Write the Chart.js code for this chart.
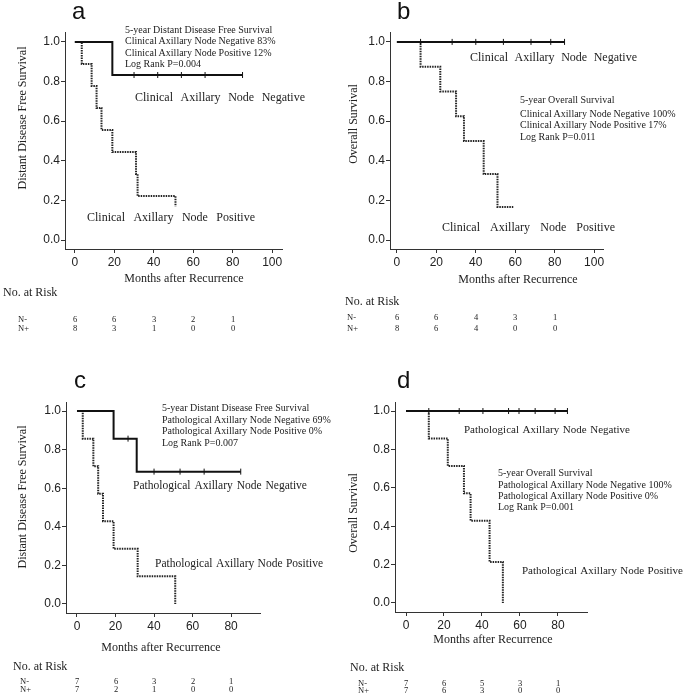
<!DOCTYPE html>
<html>
<head>
<meta charset="utf-8">
<script src="https://cdn.jsdelivr.net/npm/chart.js@4.4.0/dist/chart.umd.min.js"></script>
<style>
    html, body { margin: 0; padding: 0; background: #fff; }
    #fig { position: relative; width: 685px; height: 699px; overflow: hidden; }
    #fig canvas { position: absolute; }
    .t { position: absolute; font-family: "Liberation Serif", "Times New Roman", serif; color: #222;
         white-space: nowrap; line-height: 1; transform: translateY(-50%);
         -webkit-font-smoothing: antialiased; filter: grayscale(1); }
    .ctr { transform: translate(-50%, -50%); }
    .vt { transform: translate(-50%, -50%) rotate(-90deg); }
    .spread { display: flex; justify-content: space-between; }
    .lab { position: absolute; font-family: "Liberation Sans", Arial, sans-serif; font-size: 24px;
           line-height: 1; color: #111; filter: grayscale(1); }
</style>
</head>
<body>
<div id="fig"></div>
<script>
/* ── Data ─────────────────────────────────────────────────── */
const X_TICKS_AB = [0, 20, 40, 60, 80, 100];
const X_TICKS_CD = [0, 20, 40, 60, 80];
const Y_TICKS    = [0, 0.2, 0.4, 0.6, 0.8, 1.0];
const RISK_T     = [0, 20, 40, 60, 80];

// a · clinical node, distant disease free survival
const A_NEG_T    = [0, 19, 85];
const A_NEG_S    = [1, 0.833, 0.833];
const A_NEG_CENS = [30, 42, 54, 66, 85];
const A_POS_T    = [0, 3.5, 8.5, 11, 13.5, 19, 31, 31.8, 51];
const A_POS_S    = [1, 0.889, 0.778, 0.667, 0.556, 0.444, 0.333, 0.222, 0.17];
const A_RISK_NEG = [6, 6, 3, 2, 1];
const A_RISK_POS = [8, 3, 1, 0, 0];

// b · clinical node, overall survival
const B_NEG_T    = [0, 85];
const B_NEG_S    = [1, 1];
const B_NEG_CENS = [12, 28, 40, 54, 68, 78, 85];
const B_POS_T    = [0, 12, 22, 30, 34, 44, 51, 59];
const B_POS_S    = [1, 0.875, 0.75, 0.625, 0.5, 0.333, 0.167, 0.167];
const B_RISK_NEG = [6, 6, 4, 3, 1];
const B_RISK_POS = [8, 6, 4, 0, 0];

// c · pathological node, distant disease free survival
const C_NEG_T    = [0, 19, 31, 85];
const C_NEG_S    = [1, 0.857, 0.686, 0.686];
const C_NEG_CENS = [26.5, 40, 53.5, 66, 85];
const C_POS_T    = [0, 3, 8.5, 11, 13.5, 19, 31.5, 51];
const C_POS_S    = [1, 0.857, 0.714, 0.571, 0.429, 0.286, 0.143, 0];
const C_RISK_NEG = [7, 6, 3, 2, 1];
const C_RISK_POS = [7, 2, 1, 0, 0];

// d · pathological node, overall survival
const D_NEG_T    = [0, 85];
const D_NEG_S    = [1, 1];
const D_NEG_CENS = [12, 28, 40.5, 54, 59.5, 68, 78.5, 85];
const D_POS_T    = [0, 12, 22, 30.5, 34, 44, 51];
const D_POS_S    = [1, 0.857, 0.714, 0.571, 0.429, 0.214, 0];
const D_RISK_NEG = [7, 6, 5, 3, 1];
const D_RISK_POS = [7, 6, 3, 0, 0];

/* ── Layout (page pixels) ─────────────────────────────────── */
const PANELS = [
    { key: 'a', plot: { left: 65, right: 282, top: 32, bottom: 249 }, x: [-5, 105], y: [-0.045, 1.05],
      xTicks: X_TICKS_AB, neg: [A_NEG_T, A_NEG_S, A_NEG_CENS], pos: [A_POS_T, A_POS_S],
      risk: [A_RISK_NEG, A_RISK_POS], riskY: [319, 328] },
    { key: 'b', plot: { left: 390, right: 603, top: 32, bottom: 249 }, x: [-3.5, 104.5], y: [-0.045, 1.05],
      xTicks: X_TICKS_AB, neg: [B_NEG_T, B_NEG_S, B_NEG_CENS], pos: [B_POS_T, B_POS_S],
      risk: [B_RISK_NEG, B_RISK_POS], riskY: [317, 328] },
    { key: 'c', plot: { left: 66, right: 260, top: 402, bottom: 613 }, x: [-5.7, 95], y: [-0.047, 1.047],
      xTicks: X_TICKS_CD, neg: [C_NEG_T, C_NEG_S, C_NEG_CENS], pos: [C_POS_T, C_POS_S],
      risk: [C_RISK_NEG, C_RISK_POS], riskY: [681, 689] },
    { key: 'd', plot: { left: 395, right: 587, top: 402, bottom: 612 }, x: [-5.8, 95.3], y: [-0.047, 1.047],
      xTicks: X_TICKS_CD, neg: [D_NEG_T, D_NEG_S, D_NEG_CENS], pos: [D_POS_T, D_POS_S],
      risk: [D_RISK_NEG, D_RISK_POS], riskY: [683, 690] },
];

/* ── Text overlays: [x, y, text, size, kind, width] ────────── */
const TEXTS = [
    // a
    [125, 29.5, '5-year Distant Disease Free Survival', 10],
    [125, 41,   'Clinical Axillary Node Negative 83%', 10],
    [125, 52.5, 'Clinical Axillary Node Positive 12%', 10],
    [125, 64,   'Log Rank P=0.004', 10],
    [135, 97,   'Clinical Axillary Node Negative', 12, 'spread', 170],
    [87, 217,   'Clinical Axillary Node Positive', 12, 'spread', 168],
    [22, 118,   'Distant Disease Free Survival', 12, 'vt'],
    [184, 278,  'Months after Recurrence', 12, 'ctr'],
    [3, 292,    'No. at Risk', 12],
    [18, 319,   'N-', 8.5], [18, 328, 'N+', 8.5],
    // b
    [520, 100,  '5-year Overall Survival', 10],
    [520, 114,  'Clinical Axillary Node Negative 100%', 10],
    [520, 125,  'Clinical Axillary Node Positive 17%', 10],
    [520, 137,  'Log Rank P=0.011', 10],
    [470, 57,   'Clinical Axillary Node Negative', 12, 'spread', 167],
    [442, 227,  'Clinical Axillary Node Positive', 12, 'spread', 173],
    [353, 124,  'Overall Survival', 12, 'vt'],
    [518, 279,  'Months after Recurrence', 12, 'ctr'],
    [345, 301,  'No. at Risk', 12],
    [347, 317,  'N-', 8.5], [347, 328, 'N+', 8.5],
    // c
    [162, 408,  '5-year Distant Disease Free Survival', 10],
    [162, 420,  'Pathological Axillary Node Negative 69%', 10],
    [162, 431,  'Pathological Axillary Node Positive 0%', 10],
    [162, 443,  'Log Rank P=0.007', 10],
    [133, 486,  'Pathological Axillary Node Negative', 11.5, 'spread', 174],
    [155, 564,  'Pathological Axillary Node Positive', 11.5, 'spread', 168],
    [22, 497,   'Distant Disease Free Survival', 12, 'vt'],
    [161, 647,  'Months after Recurrence', 12, 'ctr'],
    [13, 666,   'No. at Risk', 12],
    [20, 681,   'N-', 8.5], [20, 689, 'N+', 8.5],
    // d
    [464, 429,  'Pathological Axillary Node Negative', 11, 'spread', 166],
    [498, 473,  '5-year Overall Survival', 10],
    [498, 485,  'Pathological Axillary Node Negative 100%', 10],
    [498, 496,  'Pathological Axillary Node Positive 0%', 10],
    [498, 507,  'Log Rank P=0.001', 10],
    [522, 570,  'Pathological Axillary Node Positive', 11, 'spread', 161],
    [353, 513,  'Overall Survival', 12, 'vt'],
    [493, 639,  'Months after Recurrence', 12, 'ctr'],
    [350, 667,  'No. at Risk', 12],
    [358, 683,  'N-', 8.5], [358, 690, 'N+', 8.5],
];

// panel letters: [x, baseline]
const LETTERS = { a: [72, 19], b: [397, 19], c: [74, 388], d: [397, 388] };

const fig = document.getElementById('fig');

function addText(x, y, str, size, kind, width) {
    const d = document.createElement('div');
    d.className = 't' + (kind === 'vt' || kind === 'ctr' ? ' ' + kind : '');
    d.style.left = Math.round(x) + 'px';
    d.style.top = Math.round(y) + 'px';
    d.style.fontSize = size + 'px';
    if (kind === 'spread') {
        d.classList.add('spread');
        d.style.width = width + 'px';
        str.split(' ').forEach(function (w) {
            const s = document.createElement('span');
            s.textContent = w;
            d.appendChild(s);
        });
    } else {
        d.textContent = str;
    }
    fig.appendChild(d);
}

function survAt(T, S, t) {
    let v = S[0];
    for (let i = 0; i < T.length; i++) if (T[i] <= t) v = S[i];
    return v;
}

function pts(T, S) {
    return T.map(function (t, i) { return { x: t, y: S[i] }; });
}

const TICK_FONT = { family: '"Liberation Sans", Arial, sans-serif', size: 12 };
const ML = 45, MR = 15, MT = 10, MB = 30, YW = 40, XH = 25;

PANELS.forEach(function (p) {
    const pw = p.plot.right - p.plot.left;
    const ph = p.plot.bottom - p.plot.top;
    const cw = pw + ML + MR, ch = ph + MT + MB;
    const cx = p.plot.left - ML, cy = p.plot.top - MT;

    const cv = document.createElement('canvas');
    cv.width = cw; cv.height = ch;
    cv.style.left = cx + 'px'; cv.style.top = cy + 'px';
    cv.style.width = cw + 'px'; cv.style.height = ch + 'px';
    fig.appendChild(cv);

    const [nT, nS, nC] = p.neg;
    const [pT, pS] = p.pos;

    const chart = new Chart(cv, {
        type : 'line',
        data : {
            datasets : [
                {
                    data        : nC.map(function (t) { return { x: t, y: survAt(nT, nS, t) }; }),
                    showLine    : false,
                    pointStyle  : 'line',
                    pointRotation : 90,
                    pointRadius : 3,
                    pointBorderWidth : 1,
                    borderColor : '#111',
                },
                {
                    data        : pts(nT, nS),
                    stepped     : 'before',
                    borderColor : '#111',
                    borderWidth : 2,
                    pointRadius : 0,
                },
                {
                    data        : pts(pT, pS),
                    stepped     : 'before',
                    borderColor : '#222',
                    borderWidth : 2,
                    borderDash  : [1.5, 1],
                    pointRadius : 0,
                },
            ],
        },
        options : {
            responsive : false,
            animation  : false,
            events     : [],
            layout     : { padding: { left: ML - YW, right: MR, top: MT, bottom: MB - XH } },
            plugins    : { legend: { display: false }, tooltip: { enabled: false } },
            scales : {
                x : {
                    type : 'linear', min: p.x[0], max: p.x[1],
                    afterBuildTicks : function (s) { s.ticks = p.xTicks.map(function (v) { return { value: v }; }); },
                    afterFit : function (s) { s.height = XH; s.paddingLeft = 0; s.paddingRight = 0; },
                    grid   : { drawOnChartArea: false, tickLength: 4, color: '#333' },
                    border : { color: '#333', width: 1 },
                    ticks  : { font: TICK_FONT, color: '#222', padding: 2, maxRotation: 0, autoSkip: false },
                },
                y : {
                    type : 'linear', min: p.y[0], max: p.y[1],
                    afterBuildTicks : function (s) { s.ticks = Y_TICKS.map(function (v) { return { value: v }; }); },
                    afterFit : function (s) { s.width = YW; s.paddingTop = 0; s.paddingBottom = 0; },
                    grid   : { drawOnChartArea: false, tickLength: 4, color: '#333' },
                    border : { color: '#333', width: 1 },
                    ticks  : { font: TICK_FONT, color: '#222', padding: 1, autoSkip: false,
                               callback: function (v) { return Number(v).toFixed(1); } },
                },
            },
        },
    });

    // number-at-risk rows, placed under the x scale
    p.risk.forEach(function (row, r) {
        row.forEach(function (n, i) {
            const x = cx + chart.scales.x.getPixelForValue(RISK_T[i]);
            addText(x, p.riskY[r], String(n), 8.5, 'ctr');
        });
    });
});

TEXTS.forEach(function (t) { addText(t[0], t[1], t[2], t[3], t[4], t[5]); });

Object.keys(LETTERS).forEach(function (k) {
    const d = document.createElement('div');
    d.className = 'lab';
    d.textContent = k;
    d.style.left = LETTERS[k][0] + 'px';
    d.style.top = Math.round(LETTERS[k][1] - 0.8465 * 24) + 'px';
    fig.appendChild(d);
});
</script>
</body>
</html>
